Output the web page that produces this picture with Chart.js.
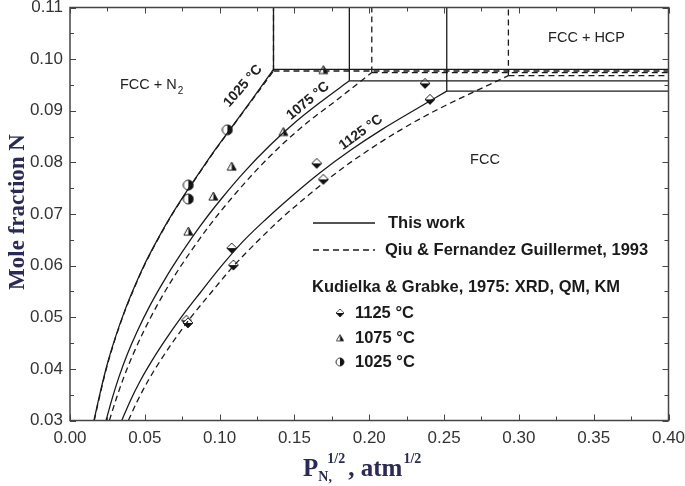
<!DOCTYPE html>
<html>
<head>
<meta charset="utf-8">
<script src="https://cdn.jsdelivr.net/npm/chart.js@4/dist/chart.umd.min.js"></script>
<style>
  html, body { margin: 0; padding: 0; background: #fff; }
  #wrap { width: 685px; height: 486px; }
</style>
</head>
<body>
<div id="wrap"><canvas id="phaseChart" width="685" height="486"></canvas></div>
<script>
// axis limits
const xLimits = [0, 0.40];
const yLimits = [0.03, 0.11];

// This work (solid) phase boundaries: sqrt(P) vs mole fraction N
const x1025 = [0.0160, 0.0201, 0.0247, 0.0301, 0.0361, 0.0428, 0.0501, 0.0582, 0.0668, 0.0762, 0.0862, 0.0969, 0.1083, 0.1217, 0.1360];
const y1025 = [0.0300, 0.0353, 0.0407, 0.0459, 0.0509, 0.0557, 0.0604, 0.0649, 0.0693, 0.0736, 0.0779, 0.0824, 0.0869, 0.0922, 0.0980];

const x1075 = [0.0241, 0.0281, 0.0328, 0.0381, 0.0448, 0.0535, 0.0635, 0.0749, 0.0876, 0.1016, 0.1170, 0.1337, 0.1511, 0.1685, 0.1867];
const y1075 = [0.0300, 0.0342, 0.0385, 0.0427, 0.0472, 0.0523, 0.0574, 0.0626, 0.0679, 0.0731, 0.0783, 0.0833, 0.0879, 0.0919, 0.0958];

const x1125 = [0.0346, 0.0401, 0.0468, 0.0548, 0.0642, 0.0749, 0.0869, 0.1003, 0.1150, 0.1310, 0.1484, 0.1671, 0.1872, 0.2086, 0.2300, 0.2518];
const y1125 = [0.0300, 0.0337, 0.0376, 0.0416, 0.0458, 0.0502, 0.0547, 0.0596, 0.0645, 0.0690, 0.0735, 0.0780, 0.0823, 0.0864, 0.0901, 0.0938];

// Qiu & Fernandez Guillermet, 1993 (dashed)
const xQ1025 = [0.0162, 0.0203, 0.0249, 0.0303, 0.0363, 0.0430, 0.0503, 0.0584, 0.0670, 0.0764, 0.0864, 0.0971, 0.1085, 0.1218, 0.1360];
const yQ1025 = [0.0300, 0.0353, 0.0407, 0.0459, 0.0509, 0.0557, 0.0604, 0.0649, 0.0693, 0.0736, 0.0779, 0.0824, 0.0869, 0.0921, 0.0977];

const xQ1075 = [0.0263, 0.0309, 0.0361, 0.0420, 0.0491, 0.0582, 0.0685, 0.0804, 0.0936, 0.1081, 0.1240, 0.1412, 0.1594, 0.1775, 0.2017];
const yQ1075 = [0.0300, 0.0342, 0.0385, 0.0427, 0.0472, 0.0523, 0.0574, 0.0626, 0.0679, 0.0731, 0.0783, 0.0833, 0.0879, 0.0919, 0.0974];

const xQ1125 = [0.0390, 0.0449, 0.0520, 0.0604, 0.0702, 0.0814, 0.0941, 0.1083, 0.1239, 0.1407, 0.1588, 0.1781, 0.1991, 0.2216, 0.2447, 0.2930];
const yQ1125 = [0.0300, 0.0337, 0.0376, 0.0416, 0.0458, 0.0502, 0.0547, 0.0596, 0.0643, 0.0690, 0.0735, 0.0780, 0.0823, 0.0864, 0.0901, 0.0968];

// Kudielka & Grabke, 1975 measurements
const xK1125 = [0.0778, 0.0788, 0.1081, 0.1092, 0.1649, 0.1693, 0.2373, 0.2406];
const yK1125 = [0.0494, 0.0489, 0.0634, 0.0601, 0.0798, 0.0767, 0.0953, 0.0922];
const xK1075 = [0.0791, 0.0958, 0.1081, 0.1426, 0.1693];
const yK1075 = [0.0666, 0.0734, 0.0792, 0.0859, 0.0979];
const xK1025 = [0.0791, 0.0791, 0.1052];
const yK1025 = [0.0756, 0.0729, 0.0863];

const pts = (xs, ys) => xs.map((x, i) => ({ x: x, y: ys[i] }));
const last = (xs, ys) => ({ x: xs[xs.length - 1], y: ys[ys.length - 1] });
// plateau to the right edge and riser to the top, both from the end of a curve
const plateau = (xs, ys) => { const c = last(xs, ys); return [c, { x: xLimits[1], y: c.y }]; };
const riser = (xs, ys) => { const c = last(xs, ys); return [c, { x: c.x, y: yLimits[1] }]; };

// half-filled marker images
function marker(kind, s) {
  const c = document.createElement('canvas');
  c.width = s + 2; c.height = s + 2;
  const g = c.getContext('2d');
  const m = (s + 2) / 2, r = s / 2;
  g.beginPath();
  if (kind === 'diamond') {
    g.moveTo(m, m - r); g.lineTo(m + r, m); g.lineTo(m, m + r); g.lineTo(m - r, m); g.closePath();
  } else if (kind === 'triangle') {
    g.moveTo(m, m - r); g.lineTo(m + r, m + r * 0.8); g.lineTo(m - r, m + r * 0.8); g.closePath();
  } else {
    g.arc(m, m, r, 0, Math.PI * 2);
  }
  g.fillStyle = '#fff';
  g.fill();
  g.save();
  g.clip();
  g.fillStyle = '#111';
  if (kind === 'diamond') g.fillRect(0, m, s + 2, s);
  else g.fillRect(m, 0, s, s + 2);
  g.restore();
  g.lineWidth = 1;
  g.strokeStyle = '#222';
  g.stroke();
  return c;
}

const mkDiamond = marker('diamond', 10);
const mkTriangle = marker('triangle', 9);
const mkCircle = marker('circle', 10);

function lineSet(data, dashed) {
  return {
    data: data,
    showLine: true,
    borderColor: '#1a1a1a',
    borderWidth: 1.3,
    borderDash: dashed ? [6, 4] : [],
    pointRadius: 0,
    cubicInterpolationMode: 'monotone',
    fill: false
  };
}

function markSet(data, img) {
  return {
    data: data,
    showLine: false,
    pointStyle: img,
    pointRadius: 5
  };
}

const datasets = [
  lineSet(pts(x1025, y1025), false),
  lineSet(pts(x1075, y1075), false),
  lineSet(pts(x1125, y1125), false),
  lineSet(plateau(x1025, y1025), false),
  lineSet(plateau(x1075, y1075), false),
  lineSet(plateau(x1125, y1125), false),
  lineSet(riser(x1025, y1025), false),
  lineSet(riser(x1075, y1075), false),
  lineSet(riser(x1125, y1125), false),
  lineSet(pts(xQ1025, yQ1025), true),
  lineSet(pts(xQ1075, yQ1075), true),
  lineSet(pts(xQ1125, yQ1125), true),
  lineSet(plateau(xQ1025, yQ1025), true),
  lineSet(plateau(xQ1075, yQ1075), true),
  lineSet(plateau(xQ1125, yQ1125), true),
  lineSet(riser(xQ1025, yQ1025), true),
  lineSet(riser(xQ1075, yQ1075), true),
  lineSet(riser(xQ1125, yQ1125), true),
  markSet(pts(xK1125, yK1125), mkDiamond),
  markSet(pts(xK1075, yK1075), mkTriangle),
  markSet(pts(xK1025, yK1025), mkCircle)
];

// frame, inward ticks, titles, region labels and legend
const decorPlugin = {
  id: 'decor',
  afterDraw(chart) {
    const ctx = chart.ctx;
    const a = chart.chartArea;
    const xs = chart.scales.x, ys = chart.scales.y;
    ctx.save();

    // frame
    ctx.strokeStyle = '#444';
    ctx.lineWidth = 1.5;
    ctx.strokeRect(a.left, a.top, a.right - a.left, a.bottom - a.top);

    // inward ticks on all four sides
    ctx.lineWidth = 1;
    ctx.beginPath();
    for (let i = 0; i <= 16; i++) {
      const px = Math.round(xs.getPixelForValue(i * 0.025)) + 0.5;
      const len = i % 2 === 0 ? 6 : 4;
      ctx.moveTo(px, a.bottom); ctx.lineTo(px, a.bottom - len);
      ctx.moveTo(px, a.top); ctx.lineTo(px, a.top + len);
    }
    for (let i = 0; i <= 16; i++) {
      const py = Math.round(ys.getPixelForValue(0.03 + i * 0.005)) + 0.5;
      const len = i % 2 === 0 ? 6 : 4;
      ctx.moveTo(a.left, py); ctx.lineTo(a.left + len, py);
      ctx.moveTo(a.right, py); ctx.lineTo(a.right - len, py);
    }
    ctx.stroke();

    // axis titles
    ctx.fillStyle = '#29295a';
    ctx.textBaseline = 'alphabetic';
    ctx.save();
    ctx.translate(24, 212);
    ctx.rotate(-Math.PI / 2);
    ctx.textAlign = 'center';
    ctx.font = 'bold 23px "Liberation Serif", "Times New Roman", serif';
    ctx.fillText('Mole fraction N', 0, 0);
    ctx.restore();

    ctx.textAlign = 'left';
    let tx = 303;
    const base = 476;
    ctx.font = 'bold 25px "Liberation Serif", serif';
    ctx.fillText('P', tx, base);
    tx += ctx.measureText('P').width;
    ctx.font = 'bold 14px "Liberation Serif", serif';
    ctx.fillText('N,', tx, base + 5);
    ctx.fillText('1/2', tx + 9, base - 13);
    tx += 30;
    ctx.font = 'bold 25px "Liberation Serif", serif';
    ctx.fillText(', atm', tx, base);
    tx += ctx.measureText(', atm').width + 1;
    ctx.font = 'bold 14px "Liberation Serif", serif';
    ctx.fillText('1/2', tx, base - 13);

    // region labels
    ctx.fillStyle = '#222';
    ctx.font = '14.5px "Liberation Sans", Arial, sans-serif';
    ctx.textBaseline = 'middle';
    const lx = xs.getPixelForValue(0.0334), ly = ys.getPixelForValue(0.0950);
    ctx.fillText('FCC + N', lx, ly);
    const w = ctx.measureText('FCC + N').width;
    ctx.font = '10px "Liberation Sans", Arial, sans-serif';
    ctx.fillText('2', lx + w + 1, ly + 6);
    ctx.font = '14.5px "Liberation Sans", Arial, sans-serif';
    ctx.fillText('FCC + HCP', xs.getPixelForValue(0.3195), ys.getPixelForValue(0.1041));
    ctx.fillText('FCC', xs.getPixelForValue(0.2674), ys.getPixelForValue(0.0805));

    // temperature labels along the curves
    ctx.font = 'bold 14px "Liberation Sans", Arial, sans-serif';
    ctx.textAlign = 'center';
    [['1025 °C', 0.1156, 0.0948, -49], ['1075 °C', 0.1591, 0.0919, -40], ['1125 °C', 0.1945, 0.0858, -36]].forEach(t => {
      ctx.save();
      ctx.translate(xs.getPixelForValue(t[1]), ys.getPixelForValue(t[2]));
      ctx.rotate(t[3] * Math.PI / 180);
      ctx.fillText(t[0], 0, 0);
      ctx.restore();
    });

    // legend
    ctx.textAlign = 'left';
    ctx.strokeStyle = '#1a1a1a';
    ctx.lineWidth = 1.3;
    ctx.beginPath();
    ctx.moveTo(313, 223); ctx.lineTo(375, 223);
    ctx.stroke();
    ctx.setLineDash([6, 4]);
    ctx.beginPath();
    ctx.moveTo(313, 250); ctx.lineTo(375, 250);
    ctx.stroke();
    ctx.setLineDash([]);
    ctx.font = 'bold 16.5px "Liberation Sans", Arial, sans-serif';
    ctx.fillStyle = '#1a1a1a';
    ctx.fillText('This work', 388, 223);
    ctx.fillText('Qiu & Fernandez Guillermet, 1993', 385, 250);
    ctx.fillText('Kudielka & Grabke, 1975: XRD, QM, KM', 312, 287);
    [[mkDiamond, '1125 °C', 313], [mkTriangle, '1075 °C', 338], [mkCircle, '1025 °C', 362]].forEach(r => {
      const sw = r[0].width * 0.8, sh = r[0].height * 0.8;
      ctx.drawImage(r[0], 340 - sw / 2, r[2] - sh / 2, sw, sh);
      ctx.fillText(r[1], 355, r[2]);
    });

    ctx.restore();
  }
};

new Chart(document.getElementById('phaseChart'), {
  type: 'scatter',
  data: { datasets: datasets },
  options: {
    responsive: false,
    animation: false,
    layout: { padding: { left: 0, top: 7.5, right: 16.5, bottom: 0 } },
    plugins: { legend: { display: false }, tooltip: { enabled: false } },
    scales: {
      x: {
        type: 'linear',
        min: xLimits[0],
        max: xLimits[1],
        afterFit: s => { s.height = 65.5; s.paddingLeft = 0; s.paddingRight = 0; },
        grid: { display: false, drawTicks: false },
        border: { display: false },
        ticks: {
          stepSize: 0.05,
          padding: 8,
          color: '#333',
          font: { family: '"Liberation Sans", Arial, sans-serif', size: 17 },
          callback: v => v.toFixed(2)
        }
      },
      y: {
        type: 'linear',
        min: yLimits[0],
        max: yLimits[1],
        afterFit: s => { s.width = 70; s.paddingTop = 0; s.paddingBottom = 0; },
        grid: { display: false, drawTicks: false },
        border: { display: false },
        ticks: {
          stepSize: 0.01,
          padding: 7,
          color: '#333',
          font: { family: '"Liberation Sans", Arial, sans-serif', size: 17 },
          callback: v => v.toFixed(2)
        }
      }
    }
  },
  plugins: [decorPlugin]
});
</script>
</body>
</html>
